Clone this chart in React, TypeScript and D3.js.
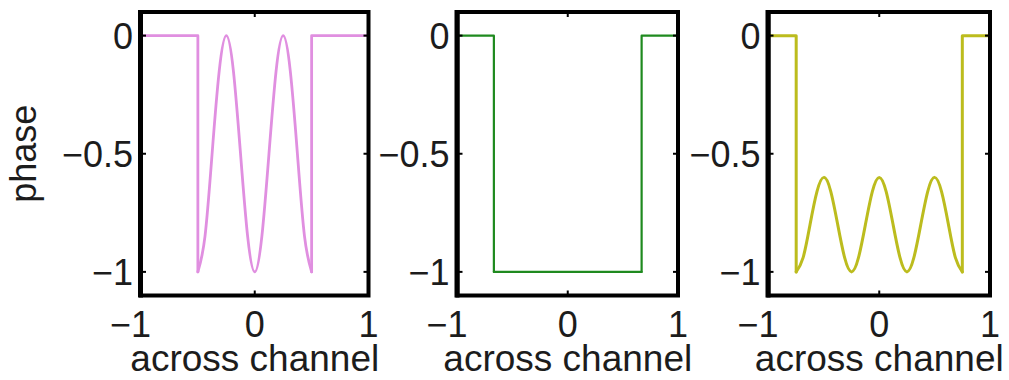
import React from "react";
import * as d3 from "d3";

// ---- data ----
const xTicks = [-1, 0, 1];
const yTicks = [0, -0.5, -1];
const xLabel = "across channel";
const yLabel = "phase";

// panel 1 (pink)
const edge1 = 0.5;
const wave1X = [-0.5, -0.4375, -0.375, -0.3125, -0.25, -0.1875, -0.125, -0.0625, 0, 0.0625, 0.125, 0.1875, 0.25, 0.3125, 0.375, 0.4375, 0.5];
const wave1Y = [-1, -0.85, -0.5, -0.15, 0, -0.15, -0.5, -0.85, -1, -0.85, -0.5, -0.15, 0, -0.15, -0.5, -0.85, -1];

// panel 2 (green)
const edge2 = 0.67;
const wave2X = [-0.67, 0.67];
const wave2Y = [-1, -1];

// panel 3 (olive yellow)
const edge3 = 0.75;
const wave3X = [-0.75, -0.6875, -0.625, -0.5625, -0.5, -0.4375, -0.375, -0.3125, -0.25, -0.1875, -0.125, -0.0625, 0, 0.0625, 0.125, 0.1875, 0.25, 0.3125, 0.375, 0.4375, 0.5, 0.5625, 0.625, 0.6875, 0.75];
const wave3Y = [-1, -0.94, -0.8, -0.66, -0.6, -0.66, -0.8, -0.94, -1, -0.94, -0.8, -0.66, -0.6, -0.66, -0.8, -0.94, -1, -0.94, -0.8, -0.66, -0.6, -0.66, -0.8, -0.94, -1];

// ---- layout / style ----
const W = 1009;
const H = 380;
const TOP = 12;
const BOTTOM = 295.5;
const FONT = "'Liberation Sans', Arial, Helvetica, sans-serif";
const FS = 36;
const TEXT = "#1c1c1c";

type Panel = {
  left: number;
  right: number;
  edge: number;
  wx: number[];
  wy: number[];
  color: string;
  width: number;
  showY: boolean;
};

const panels: Panel[] = [
  { left: 141, right: 368.5, edge: edge1, wx: wave1X, wy: wave1Y, color: "#e08fe0", width: 2.8, showY: true },
  { left: 457.5, right: 678, edge: edge2, wx: wave2X, wy: wave2Y, color: "#1f8a1f", width: 2.2, showY: false },
  { left: 768.5, right: 990, edge: edge3, wx: wave3X, wy: wave3Y, color: "#bcbc1e", width: 3, showY: false },
];

function fmt(v: number) {
  const s = String(Math.abs(v));
  return (v < 0 ? "\u2212" : "") + s;
}

function PanelView({ p }: { p: Panel }) {
  const x = d3.scaleLinear().domain([-1, 1]).range([p.left, p.right]);
  const y = d3.scaleLinear().domain([0.1, -1.1]).range([TOP, BOTTOM]);
  const lin = d3
    .line<[number, number]>()
    .x((d) => x(d[0]))
    .y((d) => y(d[1]));
  const smooth = d3
    .line<[number, number]>()
    .x((d) => x(d[0]))
    .y((d) => y(d[1]))
    .curve(d3.curveNatural);
  const wave: [number, number][] = p.wx.map((v, i) => [v, p.wy[i]]);
  const leftStep: [number, number][] = [
    [-1, 0],
    [-p.edge, 0],
    [-p.edge, p.wy[0]],
  ];
  const rightStep: [number, number][] = [
    [p.edge, p.wy[p.wy.length - 1]],
    [p.edge, 0],
    [1, 0],
  ];
  const tl = 5;
  return (
    <g>
      <g fill="none" stroke={p.color} strokeWidth={p.width} strokeLinejoin="round" strokeLinecap="round">
        <path d={lin(leftStep) || ""} />
        <path d={smooth(wave) || ""} />
        <path d={lin(rightStep) || ""} />
      </g>
      <g stroke="#000" strokeWidth={2}>
        {xTicks.map((t) => (
          <g key={"xt" + t}>
            <line x1={x(t)} x2={x(t)} y1={TOP} y2={TOP + tl} />
            <line x1={x(t)} x2={x(t)} y1={BOTTOM} y2={BOTTOM - tl} />
          </g>
        ))}
        {yTicks.map((t) => (
          <g key={"yt" + t}>
            <line x1={p.left} x2={p.left + tl} y1={y(t)} y2={y(t)} />
            <line x1={p.right} x2={p.right - tl} y1={y(t)} y2={y(t)} />
          </g>
        ))}
      </g>
      <rect
        x={p.left}
        y={TOP}
        width={p.right - p.left}
        height={BOTTOM - TOP}
        fill="none"
        stroke="#000"
        strokeWidth={4}
      />
      <line x1={p.left - 0.5} x2={p.left - 0.5} y1={TOP - 2} y2={BOTTOM + 2} stroke="#000" strokeWidth={5} />
      <g fontFamily={FONT} fontSize={FS} fill={TEXT}>
        {yTicks.map((t) => (
          <text key={"yl" + t} x={p.left - 8} y={y(t)} dy="0.36em" textAnchor="end">
            {fmt(t)}
          </text>
        ))}
        {xTicks.map((t) =>
          t < 0 ? (
            <text key={"xl" + t} x={x(t) + 10} y={337} textAnchor="end">
              {fmt(t)}
            </text>
          ) : (
            <text key={"xl" + t} x={x(t)} y={337} textAnchor="middle">
              {fmt(t)}
            </text>
          )
        )}
        <text x={(p.left + p.right) / 2} y={371} textAnchor="middle" fontSize={37}>
          {xLabel}
        </text>
        {p.showY && (
          <text transform={`translate(36,${y(-0.5)}) rotate(-90)`} textAnchor="middle">
            {yLabel}
          </text>
        )}
      </g>
    </g>
  );
}

export default function App() {
  return (
    <svg
      width={W}
      height={H}
      style={{ position: "absolute", left: 0, top: 0, display: "block", background: "#fff" }}
    >
      <rect x={0} y={0} width={W} height={H} fill="#fff" />
      {panels.map((p, i) => (
        <PanelView key={i} p={p} />
      ))}
    </svg>
  );
}
